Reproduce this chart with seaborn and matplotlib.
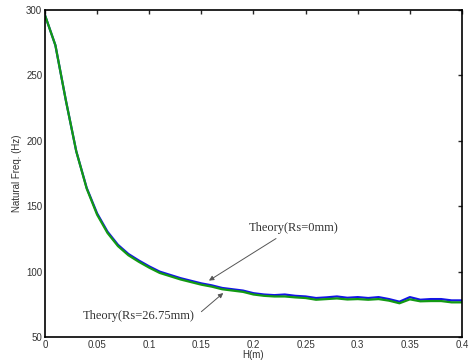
import matplotlib
matplotlib.use("Agg")
import matplotlib.pyplot as plt
import seaborn as sns
import numpy as np
import pandas as pd
from matplotlib.ticker import FuncFormatter

# data
h = [0.00, 0.01, 0.02, 0.03, 0.04, 0.05, 0.06, 0.07, 0.08, 0.09,
     0.10, 0.11, 0.12, 0.13, 0.14, 0.15, 0.16, 0.17, 0.18, 0.19,
     0.20, 0.21, 0.22, 0.23, 0.24, 0.25, 0.26, 0.27, 0.28, 0.29,
     0.30, 0.31, 0.32, 0.33, 0.34, 0.35, 0.36, 0.37, 0.38, 0.39, 0.40]
freq_rs0 = [296, 273, 231, 192, 164, 144.5, 130.5, 120.5, 113.5, 108.5,
            104, 100, 97.5, 95, 93, 91, 89.5, 87.5, 86.5, 85.5,
            83.5, 82.5, 82, 82.5, 81.5, 81, 79.8, 80.3, 81, 80,
            80.5, 79.8, 80.5, 79, 77, 80.5, 78.5, 79, 79, 78, 78]
freq_rs2675 = [296, 273, 231, 192, 163.5, 143.5, 129.5, 119.5, 112.5, 107.5,
               103, 99, 96.5, 94, 92, 90, 88.5, 86.5, 85.5, 84.5,
               82.5, 81.5, 81, 81, 80.3, 79.8, 78.5, 79, 79.5, 78.7,
               79, 78.5, 79, 77.8, 75.8, 78.8, 77.3, 77.5, 77.5, 76.5, 76.5]

df = pd.DataFrame({"H": h * 2,
                   "f": freq_rs0 + freq_rs2675,
                   "case": ["Rs=0mm"] * len(h) + ["Rs=26.75mm"] * len(h)})

sns.set_theme(style="white")
plt.rcParams['font.family'] = ['Liberation Sans', 'DejaVu Sans']

fig = plt.figure(figsize=(4.7, 3.62), dpi=100)
ax = fig.add_axes([0.0957, 0.069, 0.8873, 0.9034])

sns.lineplot(data=df, x="H", y="f", hue="case",
             palette={"Rs=0mm": "#1414e6", "Rs=26.75mm": "#139a13"},
             hue_order=["Rs=0mm", "Rs=26.75mm"],
             linewidth=1.6, legend=False, ax=ax)

ax.set_xlim(0, 0.4)
ax.set_ylim(50, 300)
ax.set_xticks(np.arange(0, 0.401, 0.05))
ax.set_yticks(np.arange(50, 301, 50))
ax.xaxis.set_major_formatter(FuncFormatter(lambda v, p: "%g" % round(v, 2)))
ax.tick_params(direction="in", length=3, width=1, top=True, right=True,
               labelsize=7, labelcolor="#333333", pad=2)
for s in ax.spines.values():
    s.set_linewidth(1.2)
    s.set_color("black")

ax.set_xlabel("H(m)", fontsize=7, color="#333333", labelpad=0)
ax.set_ylabel("Natural Freq. (Hz)", fontsize=7, color="#333333", labelpad=3)

arrow = dict(arrowstyle="-|>", color="#555555", lw=0.7, mutation_scale=7)
ax.annotate("Theory(Rs=0mm)", xy=(0.155, 92.0), xytext=(0.195, 133.5),
            fontsize=9, family="Liberation Serif", color="#333333",
            va="center", ha="left", arrowprops=arrow)
ax.annotate("", xy=(0.173, 85.0), xytext=(0.148, 68.0), arrowprops=arrow)
ax.text(0.036, 66.4, "Theory(Rs=26.75mm)", fontsize=9,
        family="Liberation Serif", color="#333333", va="center", ha="left")

fig.savefig("out.png", dpi=100)
